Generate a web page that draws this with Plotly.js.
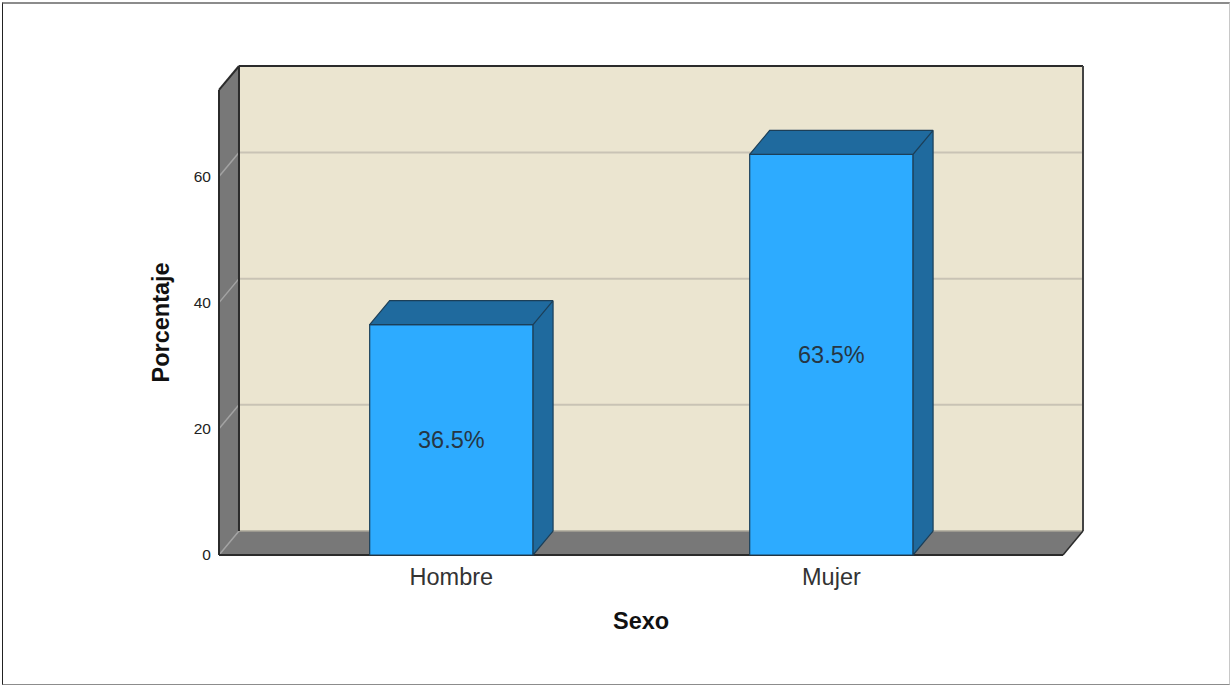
<!DOCTYPE html>
<html lang="es">
<head>
<meta charset="utf-8">
<title>Porcentaje por sexo</title>
<script src="https://cdn.plot.ly/plotly-3.0.1.min.js"></script>
<style>
  html, body { margin: 0; padding: 0; background: #fff; overflow: hidden; }
  #chart { position: absolute; left: 0; top: 0; width: 1230px; height: 686px; }
  #frame { position: absolute; left: 2px; top: 2px; width: 1228px; height: 683px; pointer-events: none;
           border-top: 2px solid #8c8c8c; border-left: 1px solid #222; border-bottom: 1px solid #8c8c8c; border-right: 1px solid #c8c8c8; box-sizing: border-box; }
</style>
</head>
<body>
<div id="chart"></div>
<div id="frame"></div>
<script>
// Survey result: share of respondents by sex
const categories = ['Hombre', 'Mujer'];
const percentages = [36.5, 63.5];
const valueLabels = ['36.5%', '63.5%'];
const yTicks = [0, 20, 40, 60];
const gridValues = [20, 40, 60];

// Box geometry, in axis units
const barWidth = 0.43;
const depthX = 0.0526;
const depthY = 3.8;
const xLeft = -0.6115;
const xRight = 1.6095;
const yTop = 73.7;

const wallFill = '#ebe5d0';
const sideFill = '#787878';
const edge = '#2b2b2b';
const gridColor = '#c9c3b5';
const barFront = '#2dabff';
const barShade = '#1f6a9e';
const barEdge = '#1c3f58';
const textFont = 'Liberation Sans, Arial, sans-serif';

function poly(points, fill) {
  const d = points.map((p, i) => (i ? 'L' : 'M') + p[0] + ' ' + p[1]).join(' ') + ' Z';
  return { type: 'path', xref: 'x', yref: 'y', layer: 'below', path: d, fillcolor: fill,
           line: { color: 'rgba(0,0,0,0)', width: 0 } };
}
function seg(x0, y0, x1, y1, color, width) {
  return { type: 'line', xref: 'x', yref: 'y', layer: 'below', x0, y0, x1, y1,
           line: { color: color, width: width } };
}

const bx = xLeft + depthX, by = depthY, bxr = xRight + depthX;
const shapes = [
  poly([[bx, by], [bxr, by], [bxr, yTop + by], [bx, yTop + by]], wallFill),
  poly([[xLeft, 0], [bx, by], [bx, yTop + by], [xLeft, yTop]], sideFill),
  poly([[xLeft, 0], [xRight, 0], [bxr, by], [bx, by]], sideFill)
];
gridValues.forEach(v => {
  shapes.push(seg(bx, v + by, bxr, v + by, gridColor, 2));
  shapes.push(seg(xLeft, v, bx, v + by, '#a3a3a3', 1.5));
});
shapes.push(seg(xLeft, 0, bx, by, '#a3a3a3', 1.5));
shapes.push(seg(bx, by, bxr, by, '#a8a498', 1.5));
shapes.push(seg(xLeft, 0, xLeft, yTop, edge, 2));
shapes.push(seg(xLeft, yTop, bx, yTop + by, edge, 2));
shapes.push(seg(bx, by, bx, yTop + by, edge, 2));
shapes.push(seg(bx, yTop + by, bxr, yTop + by, edge, 2));
shapes.push(seg(bxr, by, bxr, yTop + by, '#444', 2));
shapes.push(seg(xRight, 0, bxr, by, edge, 1.5));
shapes.push(seg(xLeft, 0, xRight, 0, edge, 2));

const xPositions = categories.map((_, i) => i);

const frontBars = {
  type: 'bar',
  x: xPositions,
  y: percentages,
  width: barWidth,
  marker: { color: barFront, line: { color: barEdge, width: 1.2 } },
  text: valueLabels,
  textposition: 'inside',
  insidetextanchor: 'middle',
  textangle: 0,
  insidetextfont: { family: textFont, size: 23.5, color: '#263644' },
  hoverinfo: 'x+y',
  showlegend: false
};

// Top and side faces of each bar, offset from its value by the box depth
const faces = xPositions.map((x, i) => {
  const l = x - barWidth / 2, r = x + barWidth / 2, v = percentages[i];
  return {
    type: 'scatter', mode: 'lines', fill: 'toself', fillcolor: barShade,
    x: [l, r, r + depthX, r + depthX, r, r, r + depthX, l + depthX, l],
    y: [v, v, v + depthY, depthY, 0, v, v + depthY, v + depthY, v],
    line: { color: barEdge, width: 1.2 },
    hoverinfo: 'skip', showlegend: false, cliponaxis: false
  };
});

const pxPerY = 6.31, pxPerX = 380;

// Axis titles are centred on the front face of the box, not on the full plot area
const axisTitles = [
  { text: '<b>Sexo</b>', xref: 'x', yref: 'paper', x: (xLeft + xRight) / 2, y: 0,
    xanchor: 'center', yanchor: 'middle', yshift: -64, showarrow: false,
    font: { family: textFont, size: 23.5, color: '#111' } },
  { text: '<b>Porcentaje</b>', xref: 'paper', yref: 'y', x: 0, y: yTop / 2,
    xanchor: 'center', yanchor: 'middle', xshift: -56, textangle: -90, showarrow: false,
    font: { family: textFont, size: 23.5, color: '#111' } }
];

const layout = {
  width: 1230,
  height: 686,
  margin: { l: 217, r: 145, t: 64, b: 129, pad: 0 },
  paper_bgcolor: '#fff',
  plot_bgcolor: 'rgba(0,0,0,0)',
  showlegend: false,
  shapes: shapes,
  annotations: axisTitles,
  xaxis: {
    range: [xLeft - 2 / pxPerX, bxr + 2 / pxPerX],
    tickmode: 'array',
    tickvals: xPositions,
    ticktext: categories,
    ticks: '', ticklabelstandoff: 3,
    showgrid: false, zeroline: false, showline: false,
    tickfont: { family: textFont, size: 23.5, color: '#333' }
  },
  yaxis: {
    range: [-2 / pxPerY, yTop + depthY + 2 / pxPerY],
    tickmode: 'array',
    tickvals: yTicks,
    ticks: 'outside', ticklen: 2, tickcolor: 'rgba(0,0,0,0)',
    showgrid: false, zeroline: false, showline: false,
    tickfont: { family: textFont, size: 15.5, color: '#222' }
  }
};

Plotly.newPlot('chart', [frontBars, ...faces], layout, { displayModeBar: false, responsive: false });
</script>
</body>
</html>
